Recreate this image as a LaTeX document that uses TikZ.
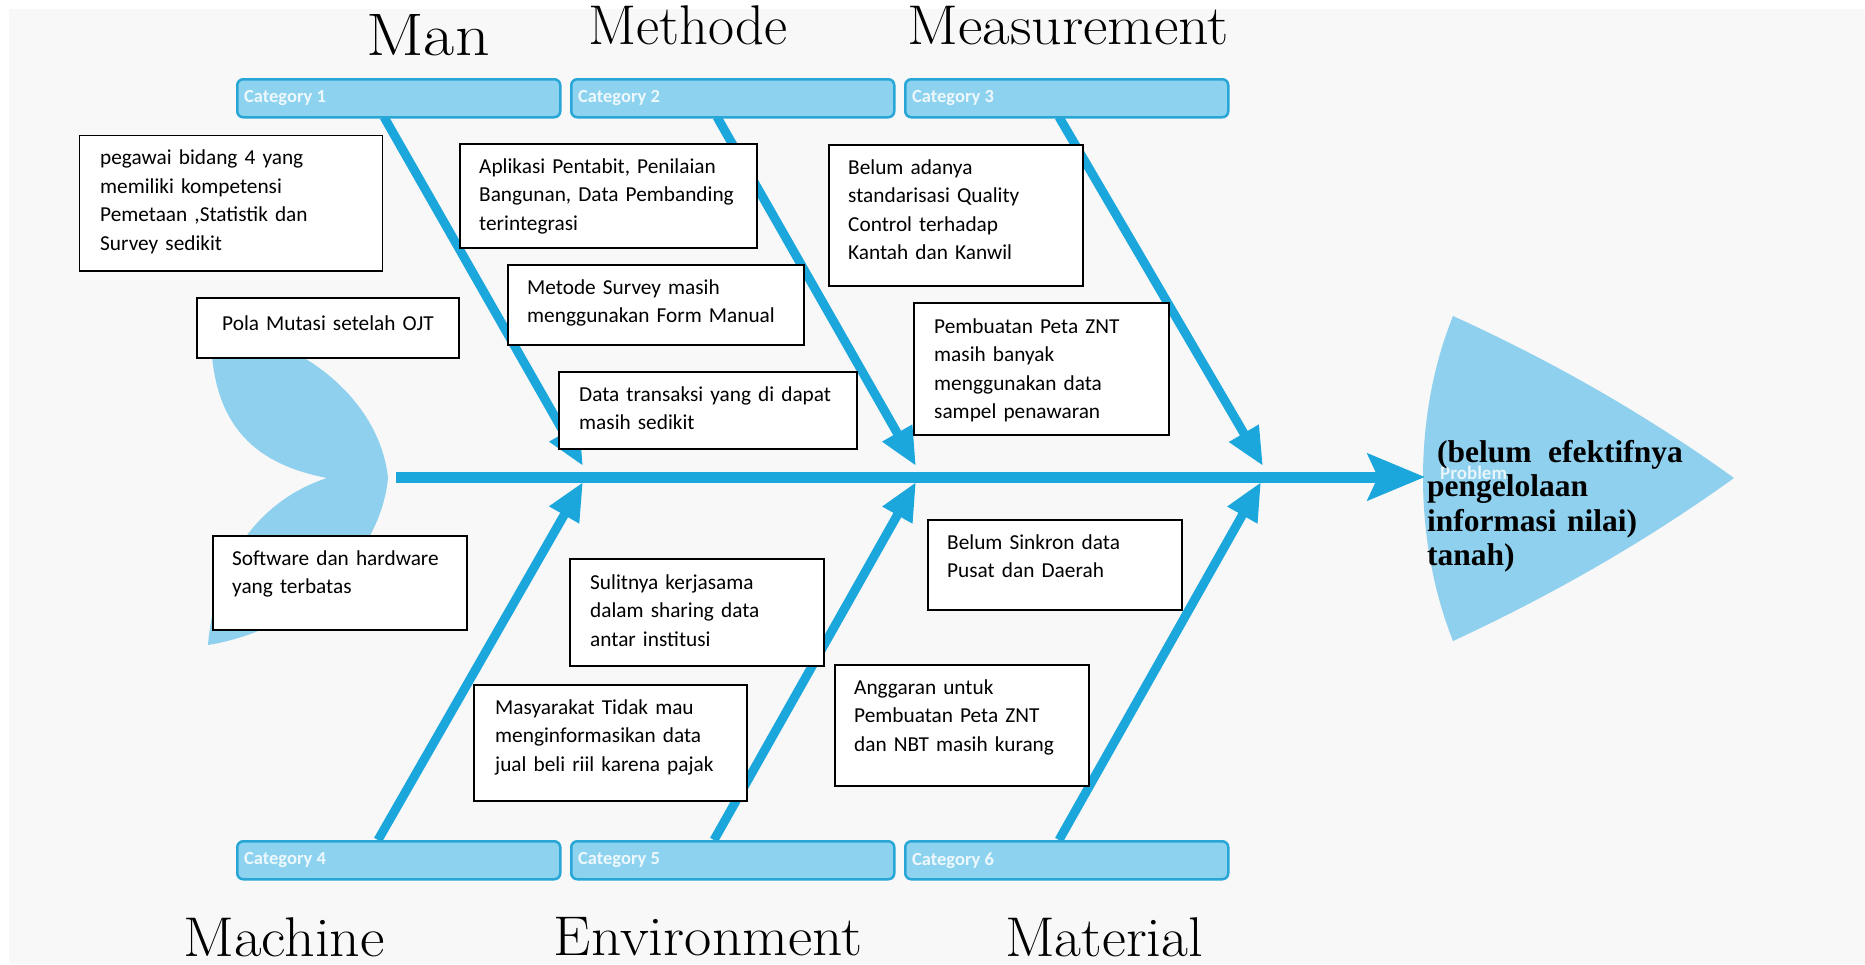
\documentclass[tikz,border=0pt]{standalone}
\usepackage{fontspec}
\newfontfamily\calibri{Carlito}
\newfontfamily\headfont{Liberation Serif}
\usetikzlibrary{arrows.meta}
\definecolor{fishblue}{RGB}{27,167,220}
\definecolor{lightfish}{RGB}{142,208,238}
\definecolor{barfill}{RGB}{141,211,240}
\definecolor{barborder}{RGB}{40,166,214}
\definecolor{bggrey}{RGB}{248,248,248}
\tikzset{
  bone/.style={line width=9pt, draw=fishblue, -{Triangle[length=38pt,width=32pt]}},
  spine/.style={line width=11pt, draw=fishblue, -{Stealth[length=57pt,width=46pt,inset=10pt]}},
  catbar/.style={draw=barborder, fill=barfill, line width=2.5pt, rounded corners=6pt,
    minimum width=323pt, minimum height=38pt, anchor=north west, inner sep=0pt},
  cattext/.style={text=white, text opacity=0.85, font=\calibri\bfseries\fontsize{18.5}{20}\selectfont, anchor=west, inner sep=0pt},
  causebox/.style={draw=black, fill=white, line width=1.8pt, anchor=north west, inner sep=0pt},
  causetext/.style={anchor=base west, align=left, inner sep=0pt,
    font=\calibri\fontsize{21.3}{28.5}\selectfont},
  biglabel/.style={anchor=base, inner sep=0pt, font=\fontsize{56}{62}\selectfont},
}
\newcommand{\cbox}[8]{%
  \node[causebox, minimum width=#4pt, minimum height=#5pt] (#1) at (#2,#3) {};
  \node[causetext, text width=#4pt] (#1t) at ([xshift=#6pt, yshift=-#7pt]#1.north west) {#8};
}
\begin{document}
\begin{tikzpicture}[x=1pt,y=-1pt]
\useasboundingbox (0,0) rectangle (1865,964);
\fill[white] (0,0) rectangle (1865,964);
\fill[bggrey] (9,9) rectangle (1865,964);

% tail
\fill[lightfish] (215,330) .. controls (300,335) and (380,400) .. (388,478)
  .. controls (380,560) and (300,630) .. (208,645)
  .. controls (215,560) and (260,500) .. (327,478)
  .. controls (260,465) and (210,430) .. (211,330) -- cycle;
% head
\fill[lightfish] (1453,316) .. controls (1552,361) and (1645,414) .. (1734,478)
  .. controls (1645,542) and (1552,595) .. (1453,641)
  .. controls (1413,540) and (1413,415) .. (1453,316) -- cycle;
\node[anchor=base west, inner sep=0pt, text=white, text opacity=0.8,
  font=\calibri\bfseries\fontsize{19}{20}\selectfont] (prob) at (1440,479) {Problem};

% spine
\coordinate (sp1) at (396,477);
\coordinate (sp2) at (1425,477);
\draw[spine] (sp1) -- (sp2);

% bones
\coordinate (t1s) at (384,117);  \coordinate (t1e) at (583,466);
\coordinate (t2s) at (717,117);  \coordinate (t2e) at (916,466);
\coordinate (t3s) at (1059,117); \coordinate (t3e) at (1263,466);
\coordinate (b1s) at (378,840);  \coordinate (b1e) at (583,482);
\coordinate (b2s) at (714,840);  \coordinate (b2e) at (916,482);
\coordinate (b3s) at (1059,840); \coordinate (b3e) at (1261,482);
\draw[bone] (t1s) -- (t1e);
\draw[bone] (t2s) -- (t2e);
\draw[bone] (t3s) -- (t3e);
\draw[bone] (b1s) -- (b1e);
\draw[bone] (b2s) -- (b2e);
\draw[bone] (b3s) -- (b3e);

% category bars
\node[catbar] (cat1) at (236,78) {};
\node[catbar] (cat2) at (570,78) {};
\node[catbar] (cat3) at (904,78) {};
\node[catbar] (cat4) at (236,840) {};
\node[catbar] (cat5) at (570,840) {};
\node[catbar] (cat6) at (904,840) {};
\node[cattext] (cat1t) at ([xshift=8pt]cat1.west) {Category 1};
\node[cattext] (cat2t) at ([xshift=8pt]cat2.west) {Category 2};
\node[cattext] (cat3t) at ([xshift=8pt]cat3.west) {Category 3};
\node[cattext] (cat4t) at ([xshift=8pt]cat4.west) {Category 4};
\node[cattext] (cat5t) at ([xshift=8pt]cat5.west) {Category 5};
\node[cattext] (cat6t) at ([xshift=8pt]cat6.west) {Category 6};

% cause boxes
\cbox{c1}{78.5}{134.5}{303}{135.5}{21.5}{30}{pegawai bidang 4 yang\\memiliki kompetensi\\Pemetaan ,Statistik dan\\Survey sedikit}
\cbox{c2}{196}{297}{262}{60}{26}{33}{Pola Mutasi setelah OJT}
\cbox{c3}{459}{143}{297}{104}{20}{30}{Aplikasi Pentabit, Penilaian\\Bangunan, Data Pembanding\\terintegrasi}
\cbox{c4}{507}{264}{296}{80}{20}{30}{Metode Survey masih\\menggunakan Form Manual}
\cbox{c5}{558}{371}{298}{77}{21}{30}{Data transaksi yang di dapat\\masih sedikit}
\cbox{c6}{828}{144}{254}{141}{20}{30}{Belum adanya\\standarisasi Quality\\Control terhadap\\Kantah dan Kanwil}
\cbox{c7}{913}{302}{255}{132}{21}{31}{Pembuatan Peta ZNT\\masih banyak\\menggunakan data\\sampel penawaran}
\cbox{c8}{212}{535}{254}{94}{20}{30}{Software dan hardware\\yang terbatas}
\cbox{c9}{569}{558}{254}{107}{21}{31}{Sulitnya kerjasama\\dalam sharing data\\antar institusi}
\cbox{c10}{927}{519}{254}{90}{20}{30}{Belum Sinkron data\\Pusat dan Daerah}
\cbox{c11}{473}{684}{273}{116}{22}{30}{Masyarakat Tidak mau\\menginformasikan data\\jual beli riil karena pajak}
\cbox{c12}{834}{664}{254}{121}{20}{30}{Anggaran untuk\\Pembuatan Peta ZNT\\dan NBT masih kurang}

% head text
\node[anchor=base west, align=left, inner sep=0pt, text width=300pt,
  font=\headfont\bfseries\fontsize{31.5}{34.5}\selectfont] (problem) at (1427,462)
  {\hspace*{10pt}(belum\hspace{6pt} efektifnya\\pengelolaan\\informasi nilai)\\tanah)};

% category labels
\node[biglabel, font=\fontsize{60}{66}\selectfont] (man) at (428,55) {\scalebox{1.13}[1]{Man}};
\node[biglabel] (methode) at (688,44) {\scalebox{1.01}[1]{Methode}};
\node[biglabel] (measure) at (1068,44) {\scalebox{1.07}[1]{Measurement}};
\node[biglabel] (machine) at (284,956) {\scalebox{1.07}[1]{Machine}};
\node[biglabel] (environ) at (708,955) {\scalebox{1.06}[1]{Environment}};
\node[biglabel] (material) at (1104,956) {\scalebox{1.045}[1]{Material}};
\end{tikzpicture}
\end{document}
